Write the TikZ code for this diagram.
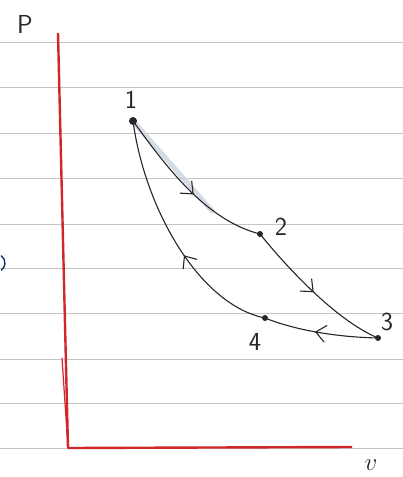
\documentclass[tikz,border=0pt]{standalone}
\usepackage{tikz}
\usetikzlibrary{arrows.meta,decorations.markings}
\definecolor{rule}{HTML}{C4C4C4}
\definecolor{axis}{HTML}{D0282A}
\definecolor{ink}{HTML}{262626}
\definecolor{pen}{HTML}{1E2C6E}
\definecolor{glow}{HTML}{C9D3E0}

\begin{document}
\begin{tikzpicture}[x=1pt,y=-1pt,font=\sffamily\fontsize{26}{30}\selectfont,
  state/.style={circle,fill=ink,inner sep=0pt,minimum size=6pt},
  tag/.style={inner sep=0pt,text=ink},
  proc/.style={draw=ink,line width=1.1pt,postaction={decorate},
    decoration={markings,mark=at position #1 with
      {\arrow{Straight Barb[length=10pt,width=17pt,line width=1.1pt]}}}},
  axisline/.style={draw=axis,line width=2.4pt,line join=round}]
  \useasboundingbox (0,0) rectangle (403,477);
  % ruled paper
  \foreach \y in {42,87,133,178,224,268,313,359,403,448}
    \draw[rule,line width=.6pt] (0,\y) -- (403,\y);
  \draw[pen,line width=1.4pt] (-4,263) ++(-55:9) arc (-55:55:9);
  % axes
  \coordinate (ptop) at (58,33);
  \coordinate (orig) at (68,448);
  \coordinate (vend) at (352,447);
  \coordinate (spike) at (62,358);
  \draw[axisline] (ptop) -- (orig) -- (vend);
  \draw[axis,line width=1.2pt] (spike) -- (orig);
  \node[tag] (plab) at (25,24) {P};
  \node[tag] (vlab) at (371,465) {$v$};
  % pencil smear along 1-2
  \coordinate (c1) at (133,121);
  \coordinate (hl) at (212,211);
  \draw[glow,line width=5pt,line cap=round,opacity=.8] (c1) -- (hl);
  % states
  \node[state,minimum size=8pt] (p1) at (c1) {};
  \node[state] (p2) at (260,234) {};
  \node[state] (p3) at (378,338) {};
  \node[state] (p4) at (265,318) {};
  \node[tag] (l1) at (131,100) {1};
  \node[tag] (l2) at (281,227) {2};
  \node[tag] (l3) at (387,322) {3};
  \node[tag] (l4) at (255,342) {4};
  % cycle
  \draw[proc=.55] (p1.center) .. controls (165,165) and (205,220) .. (p2.center);
  \draw[proc=.5] (p2.center) .. controls (285,265) and (335,320) .. (p3.center);
  \draw[proc=.55] (p3.center) .. controls (335,337) and (295,330) .. (p4.center);
  \draw[proc=.42] (p4.center) .. controls (200,305) and (145,210) .. (p1.center);
\end{tikzpicture}
\end{document}
